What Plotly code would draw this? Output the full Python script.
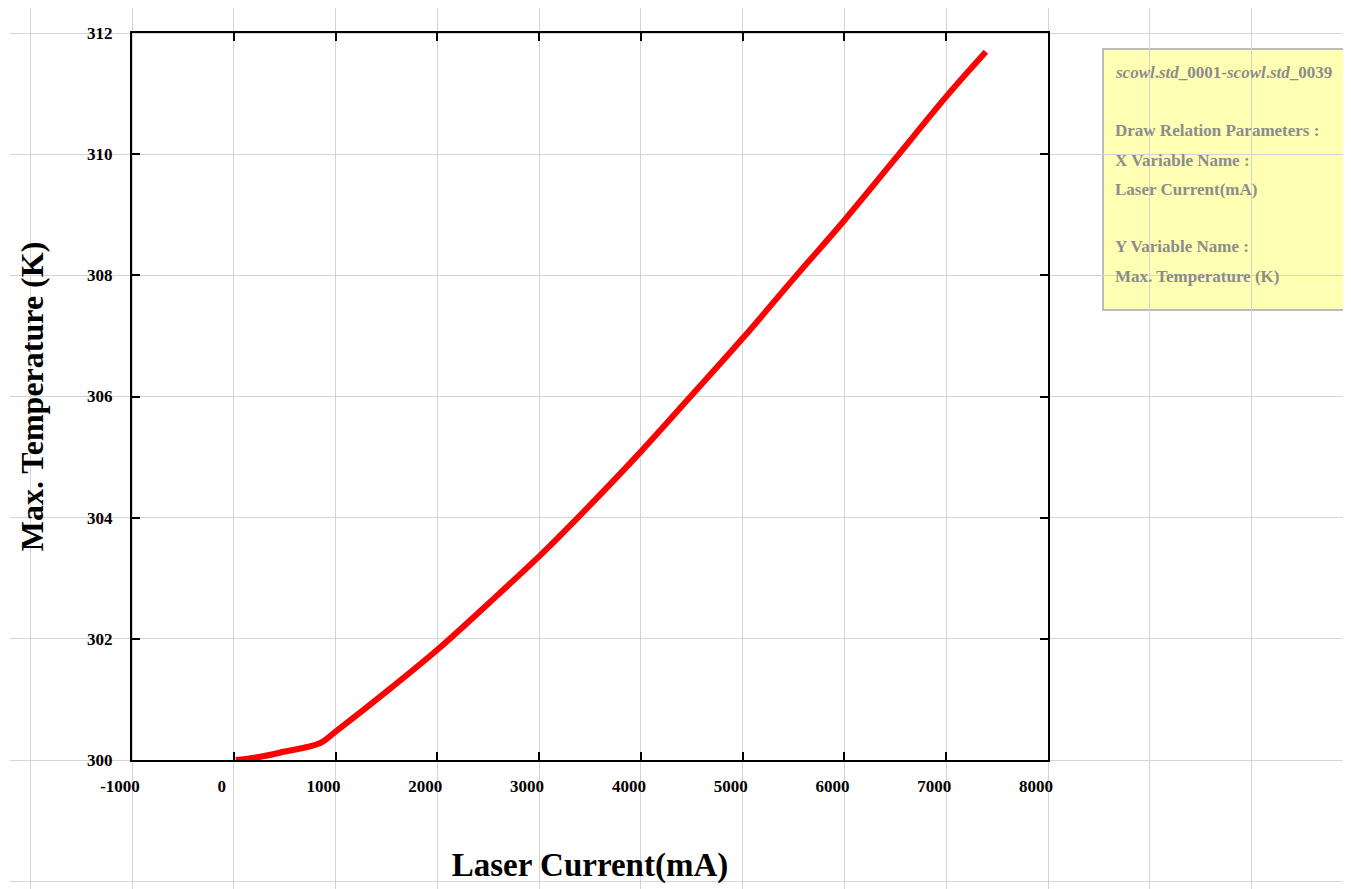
import plotly.graph_objects as go

# ---------------- data ----------------
current_mA = [20, 250, 500, 850, 1000, 1500, 2000, 2500, 3000, 3369, 4000, 4483,
              5000, 5514, 6000, 6477, 7000, 7390]
max_temp_K = [300.0, 300.05, 300.14, 300.28, 300.47, 301.13, 301.82, 302.58, 303.36,
              303.98, 305.09, 305.99, 306.96, 307.97, 308.91, 309.88, 310.95, 311.69]

x_ticks = [-1000, 0, 1000, 2000, 3000, 4000, 5000, 6000, 7000, 8000]
y_ticks = [300, 302, 304, 306, 308, 310, 312]

x_title = "Laser Current(mA)"
y_title = "Max. Temperature (K)"

info_lines = ["<i>scowl</i>.<i>std</i>_0001-<i>scowl</i>.<i>std</i>_0039", "",
              "Draw Relation Parameters :", "X Variable Name :", "Laser Current(mA)", "",
              "Y Variable Name :", "Max. Temperature (K)"]

# ---------------- layout geometry (target viewport px; page has 8px body margin) ----------------
OFF = 8
VW, VH = 1351, 889
W, H = VW - OFF, VH - OFF          # figure size
def px(v):                         # viewport px -> figure px
    return v - OFF

FX0, FX1 = px(132), px(1048)       # frame left/right
FY0, FY1 = px(33), px(760)         # frame top/bottom
XMIN, XMAX = -1000, 8000
YMIN, YMAX = 300, 312
sx = (FX1 - FX0) / (XMAX - XMIN)
sy = (FY1 - FY0) / (YMAX - YMIN)

GL, GT = px(10), 0                 # background grid left/top
grid_xrange = [XMIN + (GL - FX0) / sx, XMIN + (W - FX0) / sx]
grid_yrange = [YMIN - (H - FY1) / sy, YMAX + (FY0 - GT) / sy]

FONT = "Liberation Serif, Times New Roman, serif"

fig = go.Figure()
# background grid canvas (no marks)
fig.add_trace(go.Scatter(x=[], y=[], xaxis="x", yaxis="y", showlegend=False,
                         hoverinfo="skip"))
# data curve
fig.add_trace(go.Scatter(x=current_mA, y=max_temp_K, xaxis="x2", yaxis="y2",
                         mode="lines",
                         line=dict(color="#ff0000", width=6, shape="spline", smoothing=1.0),
                         showlegend=False))

axis_common = dict(
    showgrid=False, zeroline=False, showline=True, linecolor="black", linewidth=2,
    mirror="ticks", ticks="inside", ticklen=8, tickwidth=2, tickcolor="black",
    automargin=False,
    tickfont=dict(family=FONT, size=17, color="black", weight="bold"),
)

fig.update_layout(
    width=W, height=H,
    margin=dict(l=0, r=0, t=0, b=0, autoexpand=False),
    paper_bgcolor="white", plot_bgcolor="rgba(0,0,0,0)",
    showlegend=False,
    xaxis=dict(domain=[GL / W, 1], range=grid_xrange, anchor="y", automargin=False,
               tick0=0, dtick=1000, showgrid=True, gridcolor="#d4d4d4", gridwidth=1,
               showticklabels=False, ticks="", zeroline=False, showline=False),
    yaxis=dict(domain=[0, 1], range=grid_yrange, anchor="x", automargin=False,
               tick0=300, dtick=2, showgrid=True, gridcolor="#d4d4d4", gridwidth=1,
               showticklabels=False, ticks="", zeroline=False, showline=False),
    xaxis2=dict(domain=[FX0 / W, FX1 / W], range=[XMIN, XMAX], anchor="y2",
                tickvals=x_ticks, ticktext=[str(v) for v in x_ticks],
                ticklabelshift=-12, ticklabelstandoff=10,
                title=dict(text=x_title, standoff=57,
                           font=dict(family=FONT, size=33, color="black", weight="bold")),
                **axis_common),
    yaxis2=dict(domain=[(H - FY1) / H, (H - FY0) / H], range=[YMIN, YMAX], anchor="x2",
                tickvals=y_ticks, ticktext=[str(v) for v in y_ticks], ticklabelstandoff=14,
                title=dict(text=y_title, standoff=34,
                           font=dict(family=FONT, size=32, color="black", weight="bold")),
                **axis_common),
)

# info box
BX0, BX1, BY0, BY1 = px(1103), px(1356), px(49), px(310)
fig.add_shape(type="rect", xref="paper", yref="paper",
              x0=BX0 / W, x1=BX1 / W, y0=1 - BY1 / H, y1=1 - BY0 / H,
              fillcolor="#ffffb4", line=dict(color="#a8a8a8", width=1.5), layer="below")

line_y = [72, 101, 131, 160, 190, 218, 247, 276]
for txt, yp in zip(info_lines, line_y):
    if not txt:
        continue
    fig.add_annotation(xref="paper", yref="paper", x=px(1113) / W, y=1 - px(yp) / H,
                       xanchor="left", yanchor="middle", showarrow=False, text=txt,
                       font=dict(family=FONT, size=17, color="#8c8c8c", weight="bold"))

fig.write_html("out.html")
